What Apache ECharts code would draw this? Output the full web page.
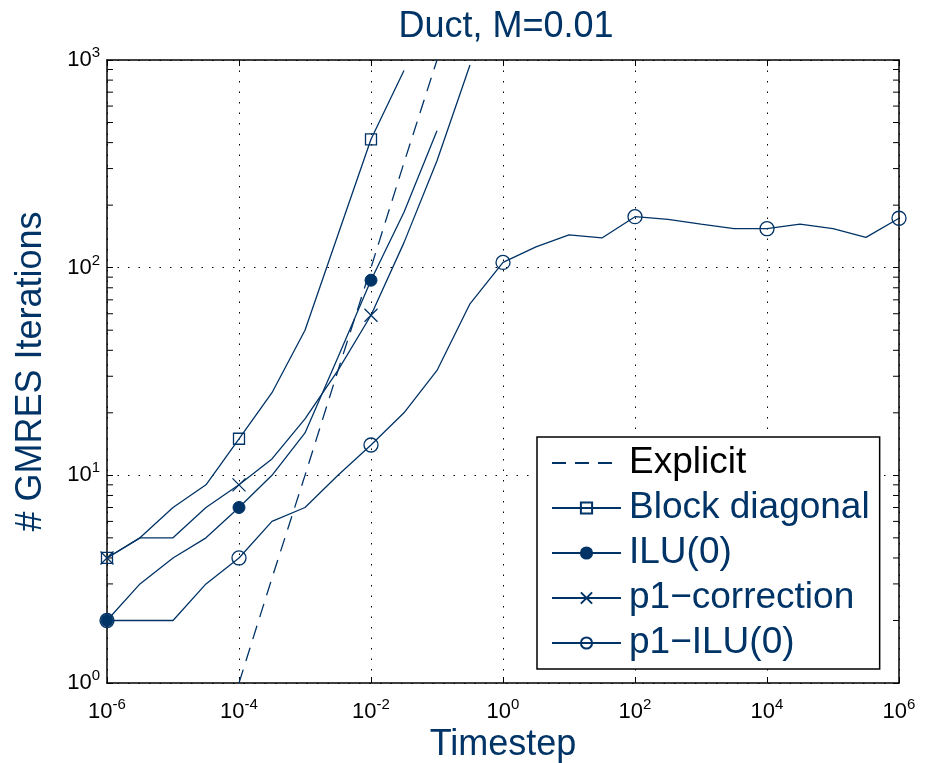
<!DOCTYPE html>
<html>
<head>
<meta charset="utf-8">
<title>Duct, M=0.01</title>
<script src="https://cdn.jsdelivr.net/npm/echarts@6/dist/echarts.min.js"></script>
<style>
  html, body { margin: 0; padding: 0; background: #fff; }
  #chart { width: 928px; height: 763px; }
</style>
</head>
<body>
<div id="chart"></div>
<script>
// Timestep sweep (half-decade steps) and GMRES iteration counts per preconditioner
const timestep = [1e-6, 3.16e-6, 1e-5, 3.16e-5, 1e-4, 3.16e-4, 1e-3, 3.16e-3, 1e-2, 3.16e-2,
  1e-1, 3.16e-1, 1, 3.16, 10, 31.6, 100, 316, 1e3, 3.16e3, 1e4, 3.16e4, 1e5, 3.16e5, 1e6];

const explicitSteps = [1e-4, 3.16e-4, 1e-3, 3.16e-3, 1e-2, 3.16e-2, 1e-1];
const explicitIters = [1, 3.2, 10, 32, 100, 320, 1000];

const blockDiagIters = [4, 5, 7, 9, 15, 25, 50, 144, 415, 890];
const iluIters = [2, 3, 4, 5, 7, 10, 16, 37, 87, 185, 456];
const p1CorrIters = [4, 5, 5, 7, 9, 12, 18.7, 32, 59, 132, 327, 946];
const p1IluIters = [2, 2, 2, 3, 4, 6, 7, 10, 14, 20, 32, 67, 106, 126, 144, 139, 176, 171, 162, 154, 154, 162, 154, 140, 173];

// Marker timesteps (every second decade)
const markerSteps = [1e-6, 1e-4, 1e-2, 1, 1e2, 1e4, 1e6];

// Minor log ticks on the iteration axis
const minorTickValues = [2, 3, 4, 5, 6, 7, 8, 9, 20, 30, 40, 50, 60, 70, 80, 90, 200, 300, 400, 500, 600, 700, 800, 900];

const NAVY = '#003366';
const FONT = "'Liberation Sans', Arial, Helvetica, sans-serif";

function pairs(xs, ys) {
  return ys.map((y, i) => [xs[i], y]);
}
function markerSize(size) {
  return function (val) {
    const hit = markerSteps.some(m => Math.abs(Math.log10(val[0] / m)) < 0.01);
    return hit ? size : 0;
  };
}
function powLabel(value) {
  const e = Math.round(Math.log10(value));
  return '{b|10}{s|' + (e < 0 ? '-' + (-e) : String(e)) + '}';
}
const powRich = {
  b: { fontSize: 22, fontFamily: FONT, color: '#000' },
  s: { fontSize: 15, fontFamily: FONT, color: '#000', padding: [0, 0, 14, 0] }
};

const solidLine = { color: NAVY, width: 1.3 };

const chart = echarts.init(document.getElementById('chart'), null, { renderer: 'canvas' });

const option = {
  backgroundColor: '#fff',
  animation: false,
  title: {
    text: 'Duct, M=0.01',
    left: 501,
    textAlign: 'center',
    top: 4,
    textStyle: { fontFamily: FONT, fontSize: 36, fontWeight: 'normal', color: NAVY }
  },
  grid: { left: 107, right: 29, top: 60, bottom: 80, outerBoundsMode: 'none', containLabel: false },
  legend: {
    orient: 'vertical',
    left: 537,
    top: 437,
    padding: [6, 10, 6, 14],
    itemWidth: 69,
    itemHeight: 14,
    itemGap: 5,
    borderColor: '#000',
    borderWidth: 1.5,
    backgroundColor: '#fff',
    textStyle: { fontFamily: FONT, fontSize: 37, lineHeight: 40, color: NAVY, padding: [0, 0, 0, 3] },
    data: [
      { name: 'Explicit', itemStyle: { color: 'rgba(0,0,0,0)', borderWidth: 0, opacity: 0 }, textStyle: { color: '#000' } },
      { name: 'Block diagonal' },
      { name: 'ILU(0)' },
      { name: 'p1\u2212correction' },
      { name: 'p1\u2212ILU(0)' }
    ]
  },
  xAxis: [
    {
      type: 'log', logBase: 10, min: 1e-6, max: 1e6, interval: 2,
      position: 'bottom',
      name: 'Timestep', nameLocation: 'middle', nameGap: 40,
      nameTextStyle: { fontFamily: FONT, fontSize: 36, color: NAVY },
      axisLine: { lineStyle: { color: '#000', width: 1.5 } },
      axisTick: { inside: true, length: 6, lineStyle: { color: '#000', width: 1 } },
      axisLabel: { formatter: powLabel, rich: powRich, margin: 14 },
      splitLine: { show: true, lineStyle: { color: '#000', width: 1, type: [1.5, 9] } },
      minorTick: { show: false }
    },
    {
      type: 'log', logBase: 10, min: 1e-6, max: 1e6, interval: 2,
      position: 'top',
      axisLine: { lineStyle: { color: '#000', width: 1.5 } },
      axisTick: { inside: true, length: 6, lineStyle: { color: '#000', width: 1 } },
      axisLabel: { show: false },
      splitLine: { show: false }
    }
  ],
  yAxis: [
    {
      type: 'log', logBase: 10, min: 1, max: 1000, interval: 1,
      position: 'left',
      name: '# GMRES Iterations', nameLocation: 'middle', nameGap: 58,
      nameTextStyle: { fontFamily: FONT, fontSize: 36, color: NAVY },
      axisLine: { lineStyle: { color: '#000', width: 1.5 } },
      axisTick: { inside: true, length: 6, lineStyle: { color: '#000', width: 1 } },
      axisLabel: { formatter: powLabel, rich: powRich, margin: 7 },
      splitLine: { show: true, lineStyle: { color: '#000', width: 1, type: [1.5, 9] } }
    },
    {
      type: 'log', logBase: 10, min: 1, max: 1000, interval: 1,
      position: 'right',
      axisLine: { lineStyle: { color: '#000', width: 1.5 } },
      axisTick: { inside: true, length: 6, lineStyle: { color: '#000', width: 1 } },
      axisLabel: { show: false },
      splitLine: { show: false }
    }
  ],
  series: [
    {
      name: 'Explicit', type: 'line',
      data: pairs(explicitSteps, explicitIters),
      symbol: 'none',
      lineStyle: { color: NAVY, width: 1.3, type: [14, 9] },
      itemStyle: { color: NAVY }
    },
    {
      name: 'Block diagonal', type: 'line',
      data: pairs(timestep, blockDiagIters),
      symbol: 'rect', symbolSize: markerSize(11),
      lineStyle: solidLine,
      itemStyle: { color: 'rgba(255,255,255,0)', borderColor: NAVY, borderWidth: 1.3 }
    },
    {
      name: 'ILU(0)', type: 'line',
      data: pairs(timestep, iluIters),
      symbol: 'circle', symbolSize: markerSize(12),
      lineStyle: solidLine,
      itemStyle: { color: NAVY, borderColor: NAVY, borderWidth: 1 }
    },
    {
      name: 'p1\u2212correction', type: 'line',
      data: pairs(timestep, p1CorrIters),
      symbol: 'path://M0,0L10,10M10,0L0,10', symbolSize: markerSize(13),
      lineStyle: solidLine,
      itemStyle: { color: 'rgba(255,255,255,0)', borderColor: NAVY, borderWidth: 1.3 }
    },
    {
      name: 'p1\u2212ILU(0)', type: 'line',
      data: pairs(timestep, p1IluIters),
      symbol: 'circle', symbolSize: markerSize(14),
      lineStyle: solidLine,
      itemStyle: { color: 'rgba(255,255,255,0)', borderColor: NAVY, borderWidth: 1.3 }
    },
    {
      // minor log ticks on both vertical edges of the axes box
      name: 'minorTicks', type: 'custom', silent: true,
      data: minorTickValues.map(v => [1e-6, v]),
      encode: { x: 0, y: 1 },
      renderItem: function (params, api) {
        const v = api.value(1);
        const pl = api.coord([1e-6, v]);
        const pr = api.coord([1e6, v]);
        const st = { stroke: '#000', lineWidth: 1 };
        return {
          type: 'group',
          children: [
            { type: 'line', shape: { x1: pl[0], y1: pl[1], x2: pl[0] + 6, y2: pl[1] }, style: st },
            { type: 'line', shape: { x1: pr[0] - 6, y1: pr[1], x2: pr[0], y2: pr[1] }, style: st }
          ]
        };
      },
      z: 1
    }
  ]
};

chart.setOption(option);
</script>
</body>
</html>
